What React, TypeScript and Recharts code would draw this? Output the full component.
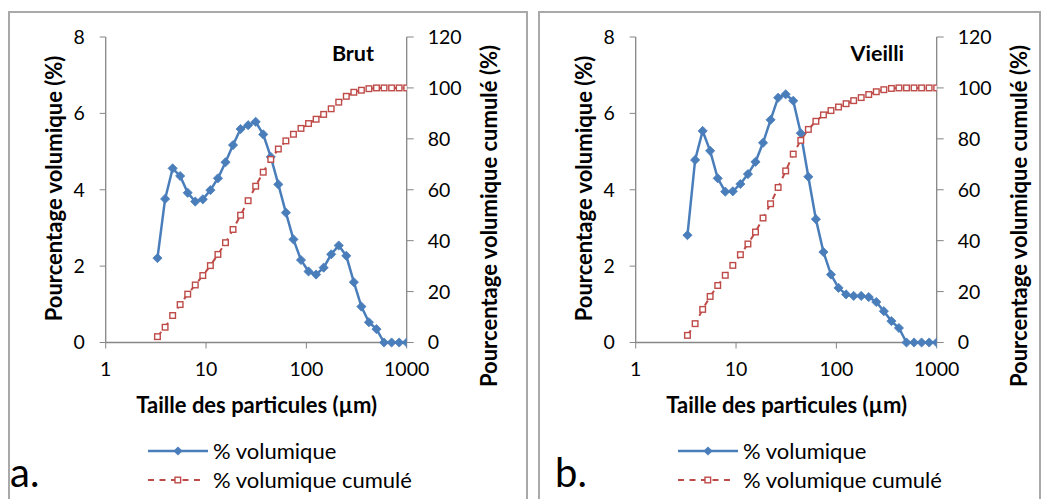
import React from 'react';
import { LineChart, Line, XAxis, YAxis, Legend } from 'recharts';

// Particle sizes (µm), log-spaced classes
const sizes = [3.28, 3.91, 4.65, 5.52, 6.57, 7.81, 9.29, 11.05, 13.14, 15.63, 18.58, 22.1, 26.28, 31.25, 37.16, 44.19, 52.56, 62.5, 74.33, 88.39, 105.1, 125, 148.7, 176.8, 210.2, 250, 297.3, 353.6, 420.4, 500, 594.6, 707.1, 840.9, 1000];
const brutVolumique = [2.21, 3.76, 4.56, 4.36, 3.92, 3.69, 3.75, 3.99, 4.3, 4.72, 5.17, 5.59, 5.69, 5.78, 5.45, 4.86, 4.14, 3.4, 2.7, 2.16, 1.86, 1.78, 1.96, 2.31, 2.54, 2.27, 1.58, 0.94, 0.53, 0.35, 0, 0, 0, 0];
const brutCumule = [2.3, 6.0, 10.6, 14.9, 19.0, 22.6, 26.3, 30.2, 34.6, 39.2, 44.4, 50.0, 55.7, 61.4, 66.9, 71.9, 76.0, 79.2, 81.8, 84.1, 86.0, 87.7, 89.6, 91.8, 94.4, 96.7, 98.3, 99.1, 99.7, 100, 100, 100, 100, 100];
const vieilliVolumique = [2.81, 4.78, 5.54, 5.02, 4.3, 3.95, 3.96, 4.15, 4.41, 4.73, 5.23, 5.83, 6.41, 6.5, 6.33, 5.48, 4.34, 3.23, 2.37, 1.78, 1.43, 1.26, 1.22, 1.22, 1.19, 1.06, 0.82, 0.56, 0.38, 0, 0, 0, 0, 0];
const vieilliCumule = [2.8, 7.4, 13.0, 18.1, 22.4, 26.4, 30.3, 34.5, 38.7, 43.4, 48.9, 54.5, 60.9, 67.4, 74.0, 79.4, 83.7, 86.9, 89.4, 91.1, 92.5, 93.8, 95.0, 96.2, 97.4, 98.5, 99.3, 99.8, 100, 100, 100, 100, 100, 100];

const xTicks = [1, 10, 100, 1000];
const leftTicks = [0, 2, 4, 6, 8];
const rightTicks = [0, 20, 40, 60, 80, 100, 120];

const seriesNames = { vol: '% volumique', cum: '% volumique cumulé' };
const xTitle = 'Taille des particules (µm)';
const leftTitle = 'Pourcentage volumique (%)';
const rightTitle = 'Pourcentage volumique cumulé (%)';

const BLUE = '#4A7EBB';
const RED = '#BE4B48';
const AXIS = '#868686';
const FONT = 'Lato, "Open Sans", sans-serif';

const Diamond = (props: any) => {
  const { cx, cy, index } = props;
  if (cx == null || cy == null) return <g key={index} />;
  const r = 4.6;
  return (
    <path
      key={index}
      d={`M${cx},${cy - r}L${cx + r},${cy}L${cx},${cy + r}L${cx - r},${cy}Z`}
      fill={BLUE}
      stroke={BLUE}
      strokeWidth={0.8}
    />
  );
};

const Square = (props: any) => {
  const { cx, cy, index } = props;
  if (cx == null || cy == null) return <g key={index} />;
  const h = 2.8;
  return (
    <rect key={index} x={cx - h} y={cy - h} width={2 * h} height={2 * h} fill="#fff" stroke={RED} strokeWidth={1.4} />
  );
};

const LegendContent = (props: any) => {
  const { payload } = props;
  return (
    <div style={{ fontFamily: FONT, fontSize: 22, color: '#000' }}>
      {(payload || []).map((entry: any) => {
        const isCum = entry.dataKey === 'cum';
        return (
          <div key={entry.dataKey} style={{ display: 'flex', alignItems: 'center', height: 29.3, whiteSpace: 'nowrap' }}>
            <svg width={65} height={20} style={{ display: 'block' }}>
              {isCum ? (
                <>
                  <line x1={0} y1={10} x2={55} y2={10} stroke={RED} strokeWidth={2.2} strokeDasharray="6 5.5" />
                  <rect x={27} y={7.2} width={5.6} height={5.6} fill="#fff" stroke={RED} strokeWidth={1.4} />
                </>
              ) : (
                <>
                  <line x1={0} y1={10} x2={60} y2={10} stroke={BLUE} strokeWidth={2.5} />
                  <path d="M30,5.4L34.6,10L30,14.6L25.4,10Z" fill={BLUE} />
                </>
              )}
            </svg>
            <span style={{ lineHeight: '29px' }}>{entry.value}</span>
          </div>
        );
      })}
    </div>
  );
};

type PanelProps = {
  left: number;
  width: number;
  title: string;
  letter: string;
  letterX: number;
  vol: number[];
  cum: number[];
};

const Panel = ({ left, width, title, letter, letterX, vol, cum }: PanelProps) => {
  const data = sizes.map((s, i) => ({ size: s, vol: vol[i], cum: cum[i] }));
  const plotLeft = 97.7;
  const plotRight = 398.7;
  const height = 488;
  const tickStyle = { fill: '#000', fontSize: 19.5, fontFamily: FONT };
  return (
    <div style={{ position: 'absolute', left, top: 11, width, height }}>
      <div
        style={{
          position: 'absolute',
          left: 0,
          top: 0,
          width,
          height: height + 4,
          border: '2px solid #a9a9a9',
          boxSizing: 'border-box',
        }}
      />
      <div style={{ position: 'absolute', left: 0, top: 0 }}>
        <LineChart width={width} height={height} data={data} margin={{ top: 26, right: 0, bottom: 126.5, left: 0 }}>
          <XAxis
            dataKey="size"
            type="number"
            scale="log"
            domain={[1, 1000]}
            ticks={xTicks}
            allowDataOverflow
            height={30}
            tickSize={6}
            tickMargin={14}
            stroke={AXIS}
            tickLine={{ stroke: AXIS }}
            axisLine={{ stroke: AXIS, strokeWidth: 1.3 }}
            tick={tickStyle}
            interval={0}
          />
          <YAxis
            yAxisId="l"
            width={plotLeft}
            domain={[0, 8]}
            ticks={leftTicks}
            tickSize={6}
            tickMargin={15}
            axisLine={{ stroke: AXIS, strokeWidth: 1.3 }}
            tickLine={{ stroke: AXIS }}
            tick={tickStyle}
            interval={0}
          />
          <YAxis
            yAxisId="r"
            orientation="right"
            width={width - plotRight}
            domain={[0, 120]}
            ticks={rightTicks}
            tickSize={7}
            tickMargin={14}
            axisLine={{ stroke: AXIS, strokeWidth: 1.3 }}
            tickLine={{ stroke: AXIS }}
            tick={tickStyle}
            interval={0}
          />
          <Line
            yAxisId="l"
            dataKey="vol"
            name={seriesNames.vol}
            stroke={BLUE}
            strokeWidth={2.5}
            dot={Diamond}
            activeDot={false}
            isAnimationActive={false}
          />
          <Line
            yAxisId="r"
            dataKey="cum"
            name={seriesNames.cum}
            stroke={RED}
            strokeWidth={2}
            strokeDasharray="6 5.5"
            dot={Square}
            activeDot={false}
            isAnimationActive={false}
          />
          <Legend
            layout="vertical"
            align="center"
            verticalAlign="middle"
            content={LegendContent}
            wrapperStyle={{ left: 140, top: 425, width: 320, height: 60 }}
          />
        </LineChart>
      </div>
      <svg
        width={width}
        height={height}
        style={{ position: 'absolute', left: 0, top: 0, pointerEvents: 'none', overflow: 'visible' }}
        fontFamily={FONT}
      >
        <text x={366} y={50} textAnchor="end" fontWeight="bold" fontSize={21.5}>
          {title}
        </text>
        <text
          x={45}
          y={177.5}
          transform="rotate(-90 45 177.5)"
          textAnchor="middle"
          dominantBaseline="central"
          fontWeight="bold"
          fontSize={22}
        >
          {leftTitle}
        </text>
        <text
          x={480}
          y={205}
          transform="rotate(-90 480 205)"
          textAnchor="middle"
          dominantBaseline="central"
          fontWeight="bold"
          fontSize={22}
        >
          {rightTitle}
        </text>
        <text x={248.7} y={402} textAnchor="middle" fontWeight="bold" fontSize={22}>
          {xTitle}
        </text>
        <text x={letterX} y={476} fontSize={40}>
          {letter}
        </text>
      </svg>
    </div>
  );
};

export default function App() {
  return (
    <div style={{ position: 'absolute', left: 0, top: 0, width: 1044, height: 499, overflow: 'hidden', background: '#fff' }}>
      <Panel left={8} width={520} title="Brut" letter="a." letterX={2} vol={brutVolumique} cum={brutCumule} />
      <Panel left={538} width={503} title="Vieilli" letter="b." letterX={17} vol={vieilliVolumique} cum={vieilliCumule} />
    </div>
  );
}
